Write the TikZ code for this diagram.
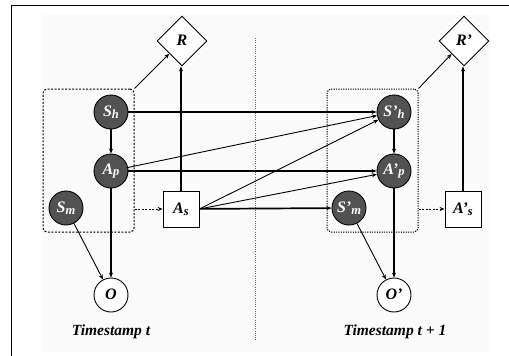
\documentclass[tikz,border=0pt]{standalone}
\usepackage{fontspec}
\setmainfont{Liberation Serif}
\usetikzlibrary{shapes.geometric,arrows.meta}
\newcommand{\lbl}[2]{\fontsize{16}{18}\selectfont\bfseries\itshape #1\raisebox{-0.25ex}{\fontsize{12.5}{13}\selectfont #2}}
\begin{document}
\begin{tikzpicture}[x=1pt,y=-1pt,
  hid/.style={circle,draw=black,line width=0.9pt,fill=black!68,text=white,minimum size=34pt,inner sep=0pt},
  obs/.style={circle,draw=black,line width=0.9pt,fill=white,minimum size=34pt,inner sep=0pt},
  act/.style={rectangle,draw=black,line width=0.8pt,fill=white,minimum size=36pt,inner sep=0pt},
  rew/.style={diamond,draw=black,line width=0.9pt,fill=white,minimum width=50pt,minimum height=50pt,inner sep=0pt},
  grp/.style={rectangle,rounded corners=4pt,line width=1pt,minimum width=91pt,minimum height=143pt},
  thick arr/.style={line width=1.7pt,-{Stealth[length=5pt,width=4pt]}},
  thin arr/.style={line width=0.9pt,-{Stealth[length=5pt,width=4pt]}},
  dash arr/.style={line width=1pt,dash pattern=on 2pt off 1.5pt,-{Stealth[length=5pt,width=4pt]}},
  ts/.style={font=\fontsize{15.5}{17}\selectfont\bfseries\itshape}]
\useasboundingbox (0,0) rectangle (509,356);
\fill[white] (0,0) rectangle (509,356);
\fill[black!1.5] (42,15) rectangle (490,352);
\draw[line width=0.8pt] (11,356) -- (11,5) -- (509,5);
\draw[line width=0.5pt,black!60,dash pattern=on 0.6pt off 1.6pt] (255,38) -- (255,340);
% groups
\node[grp,draw,dash pattern=on 2pt off 1.5pt] (gL) at (88.5,160.5) {};
\node[grp,draw,dash pattern=on 1.2pt off 1.2pt] (gR) at (372.5,160.5) {};
% nodes t
\node[rew] (R) at (182,41) {\lbl{R}{}};
\node[hid] (Sh) at (111,112) {\lbl{S}{h}};
\node[hid] (Ap) at (111,171) {\lbl{A}{p}};
\node[hid] (Sm) at (66,208) {\lbl{S}{m}};
\node[act] (As) at (181,209) {\lbl{A}{s}};
\node[obs] (O) at (111,295) {\lbl{O}{}};
\node[ts] (Tt) at (111,332) {Timestamp t};
% nodes t+1
\node[rew] (R2) at (464,41) {\lbl{R’}{}};
\node[hid] (Sh2) at (394,112) {\lbl{S’}{h}};
\node[hid] (Ap2) at (394,171) {\lbl{A’}{p}};
\node[hid] (Sm2) at (349,208) {\lbl{S’}{m}};
\node[act] (As2) at (463,209) {\lbl{A’}{s}};
\node[obs] (O2) at (394,295) {\lbl{O’}{}};
\node[ts] (Tt2) at (395,332) {Timestamp t + 1};
% helper coordinates
\coordinate (gLa) at (gL.east |- As);
\coordinate (gRa) at (gR.east |- As2);
% edges
\draw[thin arr] (gL.north east) -- (R);
\draw[thin arr] (gR.north east) -- (R2);
\draw[thick arr] (As) -- (As |- R.south);
\draw[thick arr] (As2) -- (As2 |- R2.south);
\draw[thick arr] (Sh) -- (Ap);
\draw[thick arr] (Ap) -- (O);
\draw[thin arr] (Sm) -- (O);
\draw[thick arr] (Sh2) -- (Ap2);
\draw[thick arr] (Ap2) -- (O2);
\draw[thin arr] (Sm2) -- (O2);
\draw[dash arr] (gLa) -- (As);
\draw[dash arr] (gRa) -- (As2);
\draw[thick arr] (Sh) -- (Sh2);
\draw[thick arr] (Ap) -- (Ap2);
\draw[thin arr] (Ap) -- (Sh2);
\draw[thin arr] (As.east) -- (Sh2);
\draw[thin arr] (As.east) -- (Ap2);
\draw[thick arr] (As) -- (Sm2);
\end{tikzpicture}
\end{document}
